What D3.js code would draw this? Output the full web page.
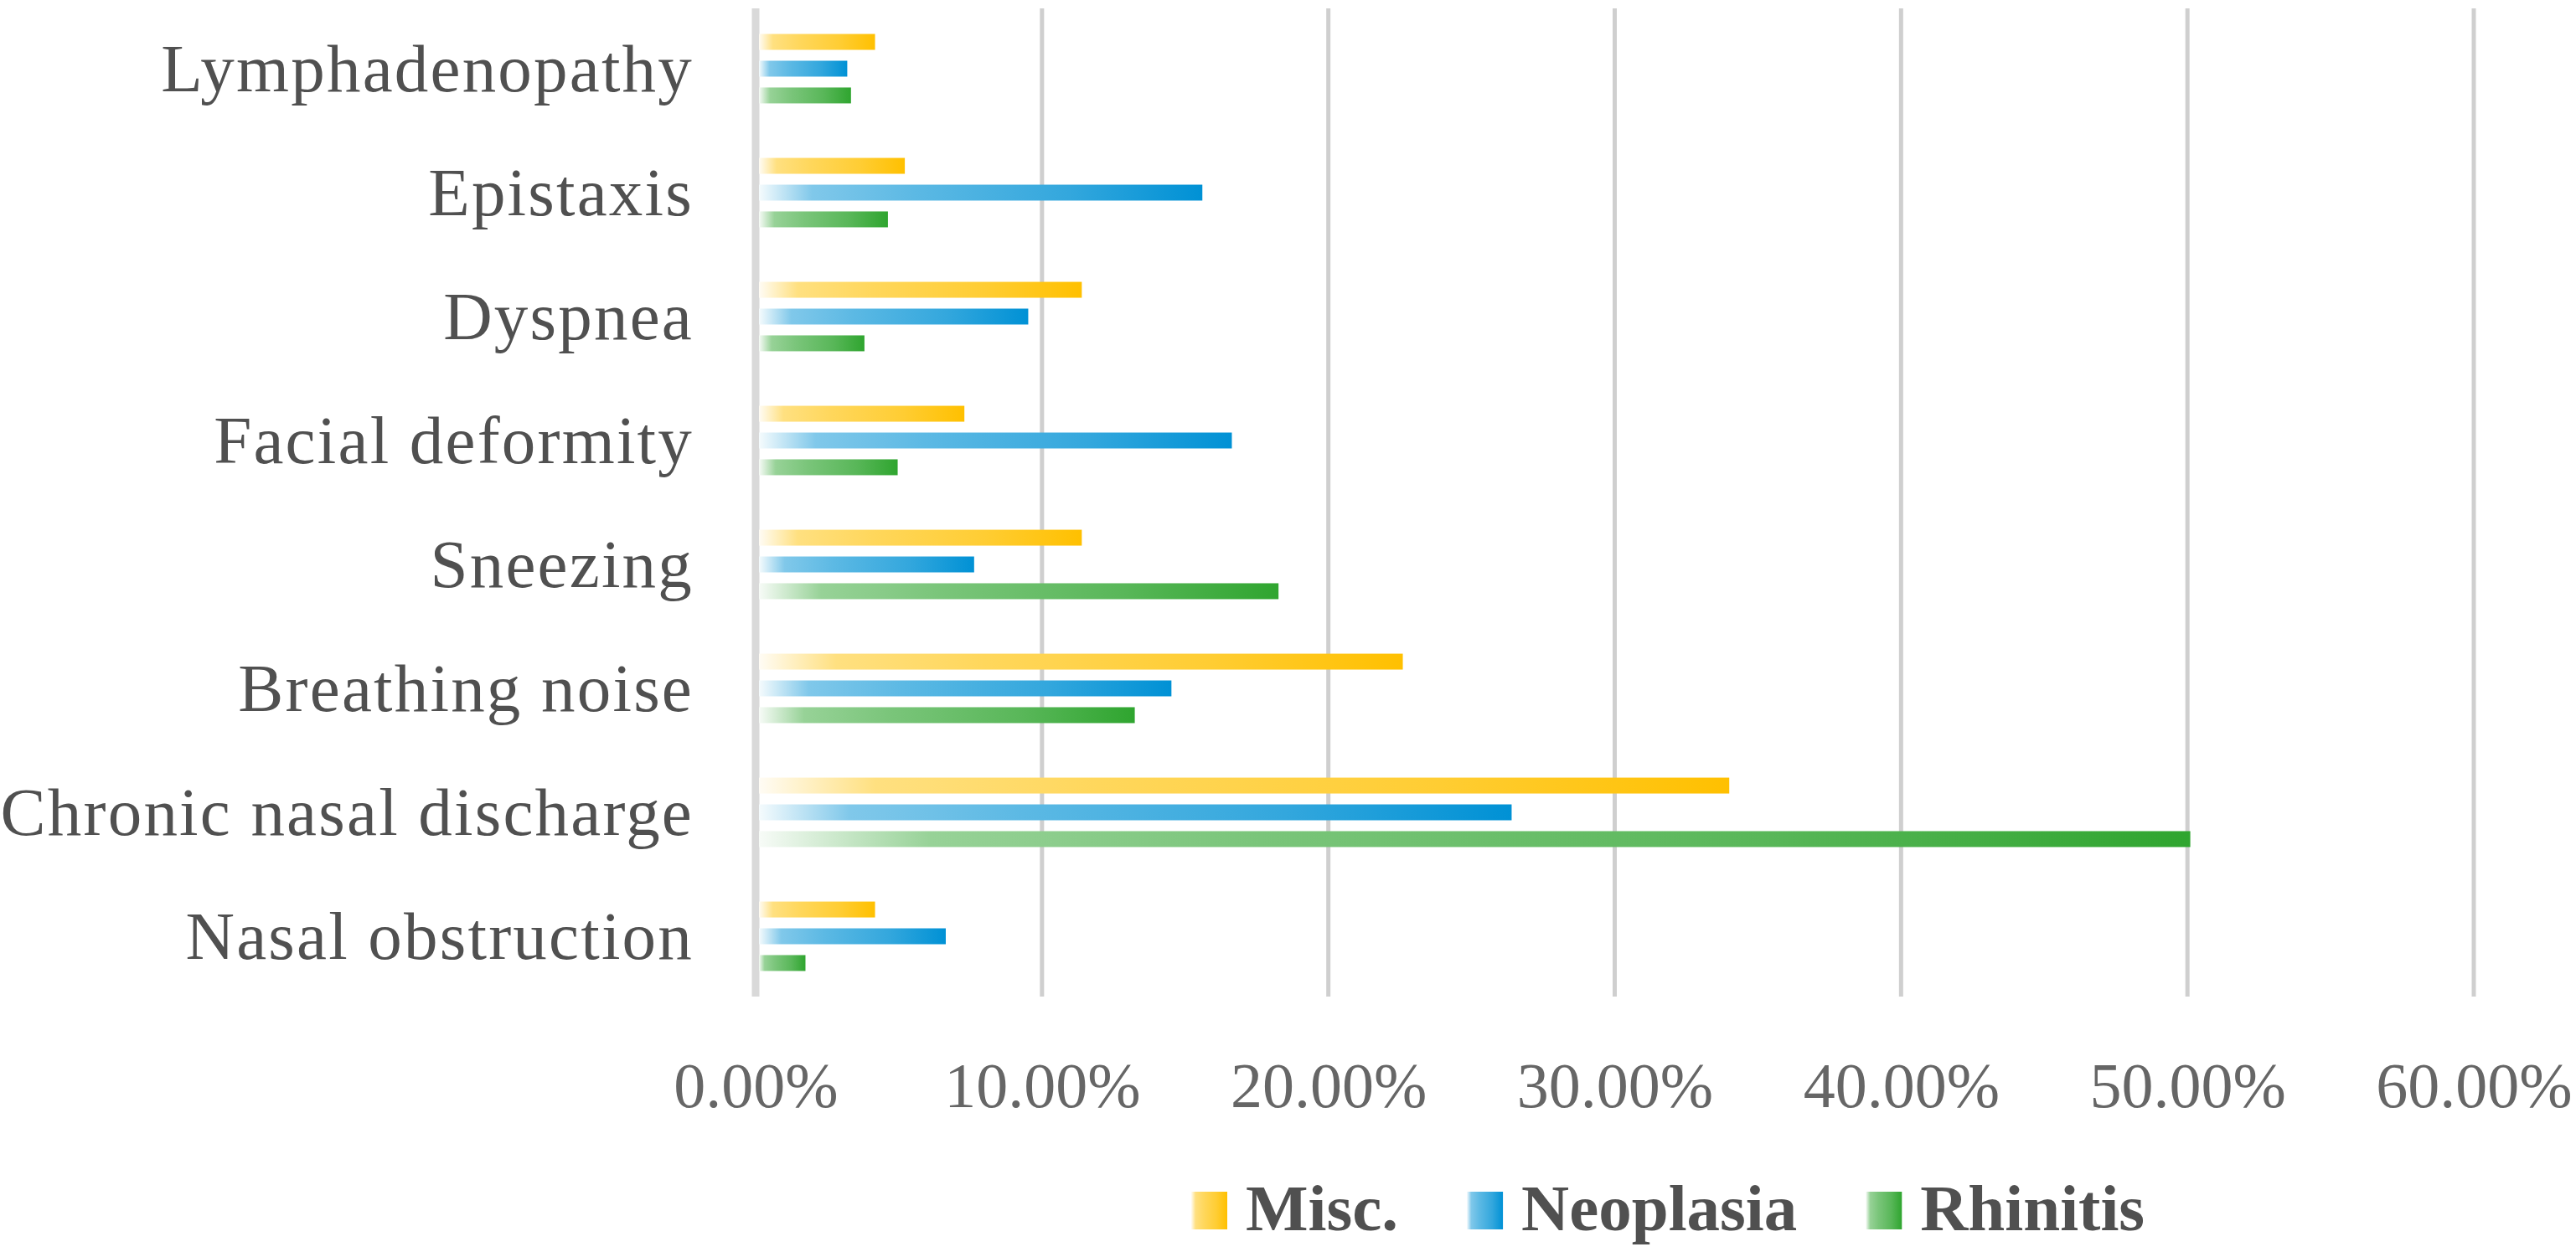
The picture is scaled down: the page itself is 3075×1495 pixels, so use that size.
<!DOCTYPE html>
<html>
<head>
<meta charset="utf-8">
<script src="https://cdn.jsdelivr.net/npm/d3@7"></script>
<style>
  html, body { margin: 0; padding: 0; background: #fff; }
  svg { display: block; }
</style>
</head>
<body>
<div id="chart"></div>
<script>
'use strict';

// categories top to bottom
var categories = ['Lymphadenopathy', 'Epistaxis', 'Dyspnea', 'Facial deformity', 'Sneezing',
    'Breathing noise', 'Chronic nasal discharge', 'Nasal obstruction'];
var seriesNames = ['Misc.', 'Neoplasia', 'Rhinitis'];
var seriesColors = ['#ffc000', '#0091d5', '#2fa52f'];

// values in %, same order as categories
var miscValues = [4.17, 5.21, 11.39, 7.29, 11.39, 22.6, 34.0, 4.17];
var neoplasiaValues = [3.2, 15.6, 9.52, 16.63, 7.63, 14.52, 26.4, 6.64];
var rhinitisValues = [3.33, 4.62, 3.8, 4.96, 18.26, 13.24, 50.1, 1.74];

var xTicks = [0, 10, 20, 30, 40, 50, 60];

var width = 3075,
    height = 1495,
    plotLeft = 902,
    plotRight = 2953,
    plotTop = 10,
    plotBottom = 1190,
    textColor = '#505050',
    serif = '"Liberation Serif", "DejaVu Serif", serif';

var seriesValues = [miscValues, neoplasiaValues, rhinitisValues];

var svg = d3.select('#chart').append('svg')
    .attr('width', width).attr('height', height)
    .attr('viewBox', '0 0 ' + width + ' ' + height);

var x = d3.scaleLinear().domain([0, 60]).range([plotLeft, plotRight]);
var y = d3.scaleBand().domain(categories).range([8, 1192]).paddingInner(0.44).paddingOuter(0.22);
var ySub = d3.scaleBand().domain(seriesNames).range([0, y.bandwidth()]).paddingInner(0.406).paddingOuter(0);

// gradients: fade from white on the left to full colour on the right
var defs = svg.append('defs');
seriesNames.forEach(function (name, i) {
    var c = seriesColors[i],
        mix = d3.interpolateRgb('#ffffff', c),
        grad = defs.append('linearGradient').attr('id', 'grad' + i)
            .attr('x1', 0).attr('x2', 1).attr('y1', 0).attr('y2', 0);
    [[0, 0.04], [0.12, 0.5], [0.35, 0.64], [0.7, 0.8], [1, 1]].forEach(function (s) {
        grad.append('stop').attr('offset', s[0]).attr('stop-color', mix(s[1]));
    });
});

// gridlines
svg.append('g').selectAll('line').data(xTicks).enter().append('line')
    .attr('x1', function (d) { return x(d); })
    .attr('x2', function (d) { return x(d); })
    .attr('y1', plotTop).attr('y2', plotBottom)
    .attr('stroke', function (d) { return d === 0 ? '#d9d9d9' : '#cfcfcf'; })
    .attr('stroke-width', function (d) { return d === 0 ? 9 : 5; });

// bars
var groups = svg.append('g').selectAll('g').data(categories).enter().append('g')
    .attr('transform', function (d) { return 'translate(0,' + y(d) + ')'; });

groups.selectAll('rect').data(function (d, ci) {
    return seriesNames.map(function (s, si) {
        return { series: s, index: si, value: seriesValues[si][ci] };
    });
}).enter().append('rect')
    .attr('x', x(0) + 4)
    .attr('y', function (d) { return ySub(d.series); })
    .attr('width', function (d) { return x(d.value) - x(0) - 4; })
    .attr('height', ySub.bandwidth())
    .attr('fill', function (d) { return 'url(#grad' + d.index + ')'; });

// category labels
var yAxis = svg.append('g').attr('transform', 'translate(' + plotLeft + ',0)')
    .call(d3.axisLeft(y).tickSize(0).tickPadding(74));
yAxis.select('.domain').remove();
yAxis.selectAll('text')
    .attr('dy', '0.33em')
    .style('font-family', serif)
    .style('font-size', '81px')
    .style('letter-spacing', '2.2px')
    .attr('fill', textColor);

// x tick labels
var xAxis = svg.append('g').attr('transform', 'translate(0,' + plotBottom + ')')
    .call(d3.axisBottom(x).tickValues(xTicks).tickSize(0).tickFormat(function (d) {
        return d.toFixed(2) + '%';
    }));
xAxis.select('.domain').remove();
xAxis.selectAll('text')
    .attr('dy', null).attr('y', 132)
    .style('font-family', serif)
    .style('font-size', '76px')
    .attr('fill', '#666666');

// legend
var legend = svg.append('g').attr('transform', 'translate(1422,1423)');
var lx = 0;
seriesNames.forEach(function (name, i) {
    var item = legend.append('g').attr('transform', 'translate(' + lx + ',0)');
    item.append('rect').attr('width', 43).attr('height', 45).attr('fill', 'url(#grad' + i + ')');
    var t = item.append('text').attr('x', 65).attr('y', 46)
        .style('font-family', serif).style('font-size', '79px').style('font-weight', 'bold')
        .attr('fill', textColor).text(name);
    lx += 65 + t.node().getComputedTextLength() + 82;
});
</script>
</body>
</html>
